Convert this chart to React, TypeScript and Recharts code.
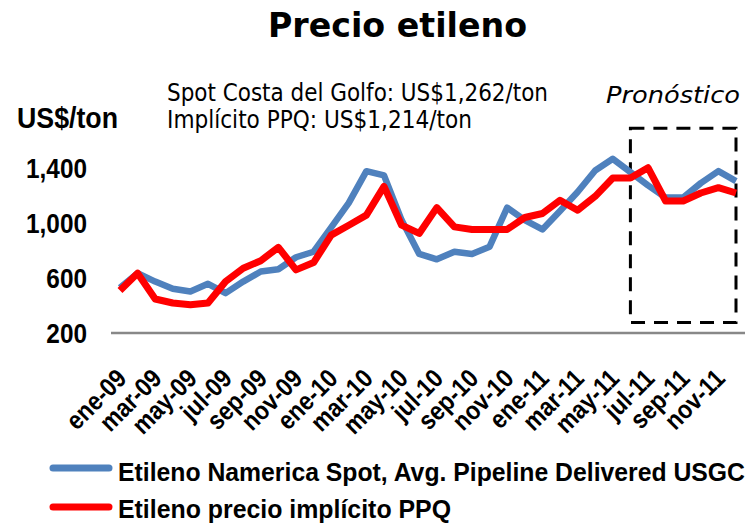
import React from 'react';
import { LineChart, Line, XAxis, YAxis, ReferenceArea, Legend } from 'recharts';

const months = [
  'ene-09','feb-09','mar-09','abr-09','may-09','jun-09','jul-09','ago-09','sep-09','oct-09','nov-09','dic-09',
  'ene-10','feb-10','mar-10','abr-10','may-10','jun-10','jul-10','ago-10','sep-10','oct-10','nov-10','dic-10',
  'ene-11','feb-11','mar-11','abr-11','may-11','jun-11','jul-11','ago-11','sep-11','oct-11','nov-11','dic-11',
];
const spotUSGC = [
  529, 635, 574, 522, 502, 558, 490, 574, 647, 664, 751, 791,
  968, 1146, 1377, 1346, 1021, 775, 736, 791, 775, 828, 1112, 1021,
  953, 1088, 1225, 1382, 1467, 1370, 1274, 1185, 1185, 1290, 1377, 1305,
];
const implicitPPQ = [
  509, 635, 447, 418, 406, 418, 574, 671, 726, 823, 659, 712,
  912, 984, 1057, 1266, 984, 924, 1112, 972, 953, 953, 953, 1040,
  1069, 1165, 1093, 1194, 1327, 1327, 1402, 1160, 1160, 1218, 1257, 1218,
];
const yTicks = [200, 600, 1000, 1400];
const yDomain = [200, 1800];
const forecastStart = 'jun-11';
const forecastEnd = 'dic-11';
const forecastLow = 276;
const forecastHigh = 1690;

const seriesNames = {
  spot: 'Etileno Namerica Spot, Avg. Pipeline Delivered USGC',
  ppq: 'Etileno precio implícito PPQ',
};
const BLUE = '#4F81BD';
const RED = '#FF0000';

const data = months.map((m, i) => ({ month: m, spot: spotUSGC[i], ppq: implicitPPQ[i] }));

const BOLD = '"Liberation Sans", Arial, sans-serif';
const TAHOMA = '"DejaVu Sans Condensed", "DejaVu Sans", sans-serif';

const XTick = (props: any) => {
  const { x, y, payload } = props;
  return (
    <text
      transform={`translate(${x + 8},${y + 39}) rotate(-45) scale(0.88,1)`}
      textAnchor="end"
      fontFamily={BOLD}
      fontWeight="bold"
      fontSize={26}
      fill="#000"
    >
      {payload.value}
    </text>
  );
};

const YTick = (props: any) => {
  const { x, y, payload } = props;
  return (
    <text
      transform={`translate(${x},${y + 10}) scale(0.87,1)`}
      textAnchor="end"
      fontFamily={BOLD}
      fontWeight="bold"
      fontSize={28}
      fill="#000"
    >
      {payload.value.toLocaleString('en-US')}
    </text>
  );
};

const LegendContent = () => (
  <svg width={750} height={73} style={{ display: 'block' }}>
    <line x1={53} x2={109} y1={18} y2={18} stroke={BLUE} strokeWidth={7} strokeLinecap="round" />
    <text x={118} y={31} fontFamily={BOLD} fontWeight="bold" fontSize={25} textLength={627} lengthAdjust="spacingAndGlyphs" fill="#000">
      {seriesNames.spot}
    </text>
    <line x1={53} x2={109} y1={57} y2={57} stroke={RED} strokeWidth={7} strokeLinecap="round" />
    <text x={118} y={68} fontFamily={BOLD} fontWeight="bold" fontSize={25} textLength={333} lengthAdjust="spacingAndGlyphs" fill="#000">
      {seriesNames.ppq}
    </text>
  </svg>
);

export default function App() {
  return (
    <div style={{ position: 'absolute', left: 0, top: 0, width: 750, height: 523, background: '#fff' }}>
      <LineChart width={750} height={523} data={data} margin={{ top: 113, right: 5, bottom: 0, left: 0 }}>
        <XAxis
          dataKey="month"
          interval={1}
          tick={<XTick />}
          tickLine={false}
          axisLine={{ stroke: '#888888', strokeWidth: 2.5 }}
          height={117}
          padding={{ left: 9, right: 9 }}
        />
        <YAxis
          domain={yDomain}
          ticks={yTicks}
          type="number"
          allowDataOverflow
          tick={<YTick />}
          tickLine={false}
          axisLine={false}
          width={111}
          tickMargin={18}
        />
        <Line type="linear" dataKey="spot" name={seriesNames.spot} stroke={BLUE} strokeWidth={6.5} dot={false} strokeLinejoin="round" isAnimationActive={false} />
        <Line type="linear" dataKey="ppq" name={seriesNames.ppq} stroke={RED} strokeWidth={7} dot={false} strokeLinejoin="round" isAnimationActive={false} />
        <ReferenceArea
          x1={forecastStart}
          x2={forecastEnd}
          y1={forecastLow}
          y2={forecastHigh}
          fill="none"
          fillOpacity={0}
          stroke="#000"
          strokeWidth={3}
          strokeDasharray="14 9"
          ifOverflow="visible"
        />
        <Legend verticalAlign="bottom" height={73} content={<LegendContent />} wrapperStyle={{ left: 0, width: 750 }} />
      </LineChart>
      <svg width={750} height={523} style={{ position: 'absolute', left: 0, top: 0, pointerEvents: 'none' }}>
        <text x={268} y={37} fontFamily={TAHOMA} fontWeight="bold" fontSize={33} textLength={259} lengthAdjust="spacingAndGlyphs" fill="#000">
          Precio etileno
        </text>
        <text x={167} y={101} fontFamily={TAHOMA} fontSize={24} textLength={381} lengthAdjust="spacingAndGlyphs" fill="#000">
          Spot Costa del Golfo: US$1,262/ton
        </text>
        <text x={167} y={128} fontFamily={TAHOMA} fontSize={24} textLength={305} lengthAdjust="spacingAndGlyphs" fill="#000">
          Implícito PPQ: US$1,214/ton
        </text>
        <text x={606} y={103} fontFamily={TAHOMA} fontStyle="italic" fontSize={23} textLength={134} lengthAdjust="spacingAndGlyphs" fill="#000">
          Pronóstico
        </text>
        <text x={17} y={128} fontFamily={BOLD} fontWeight="bold" fontSize={29} textLength={101} lengthAdjust="spacingAndGlyphs" fill="#000">
          US$/ton
        </text>
      </svg>
    </div>
  );
}
